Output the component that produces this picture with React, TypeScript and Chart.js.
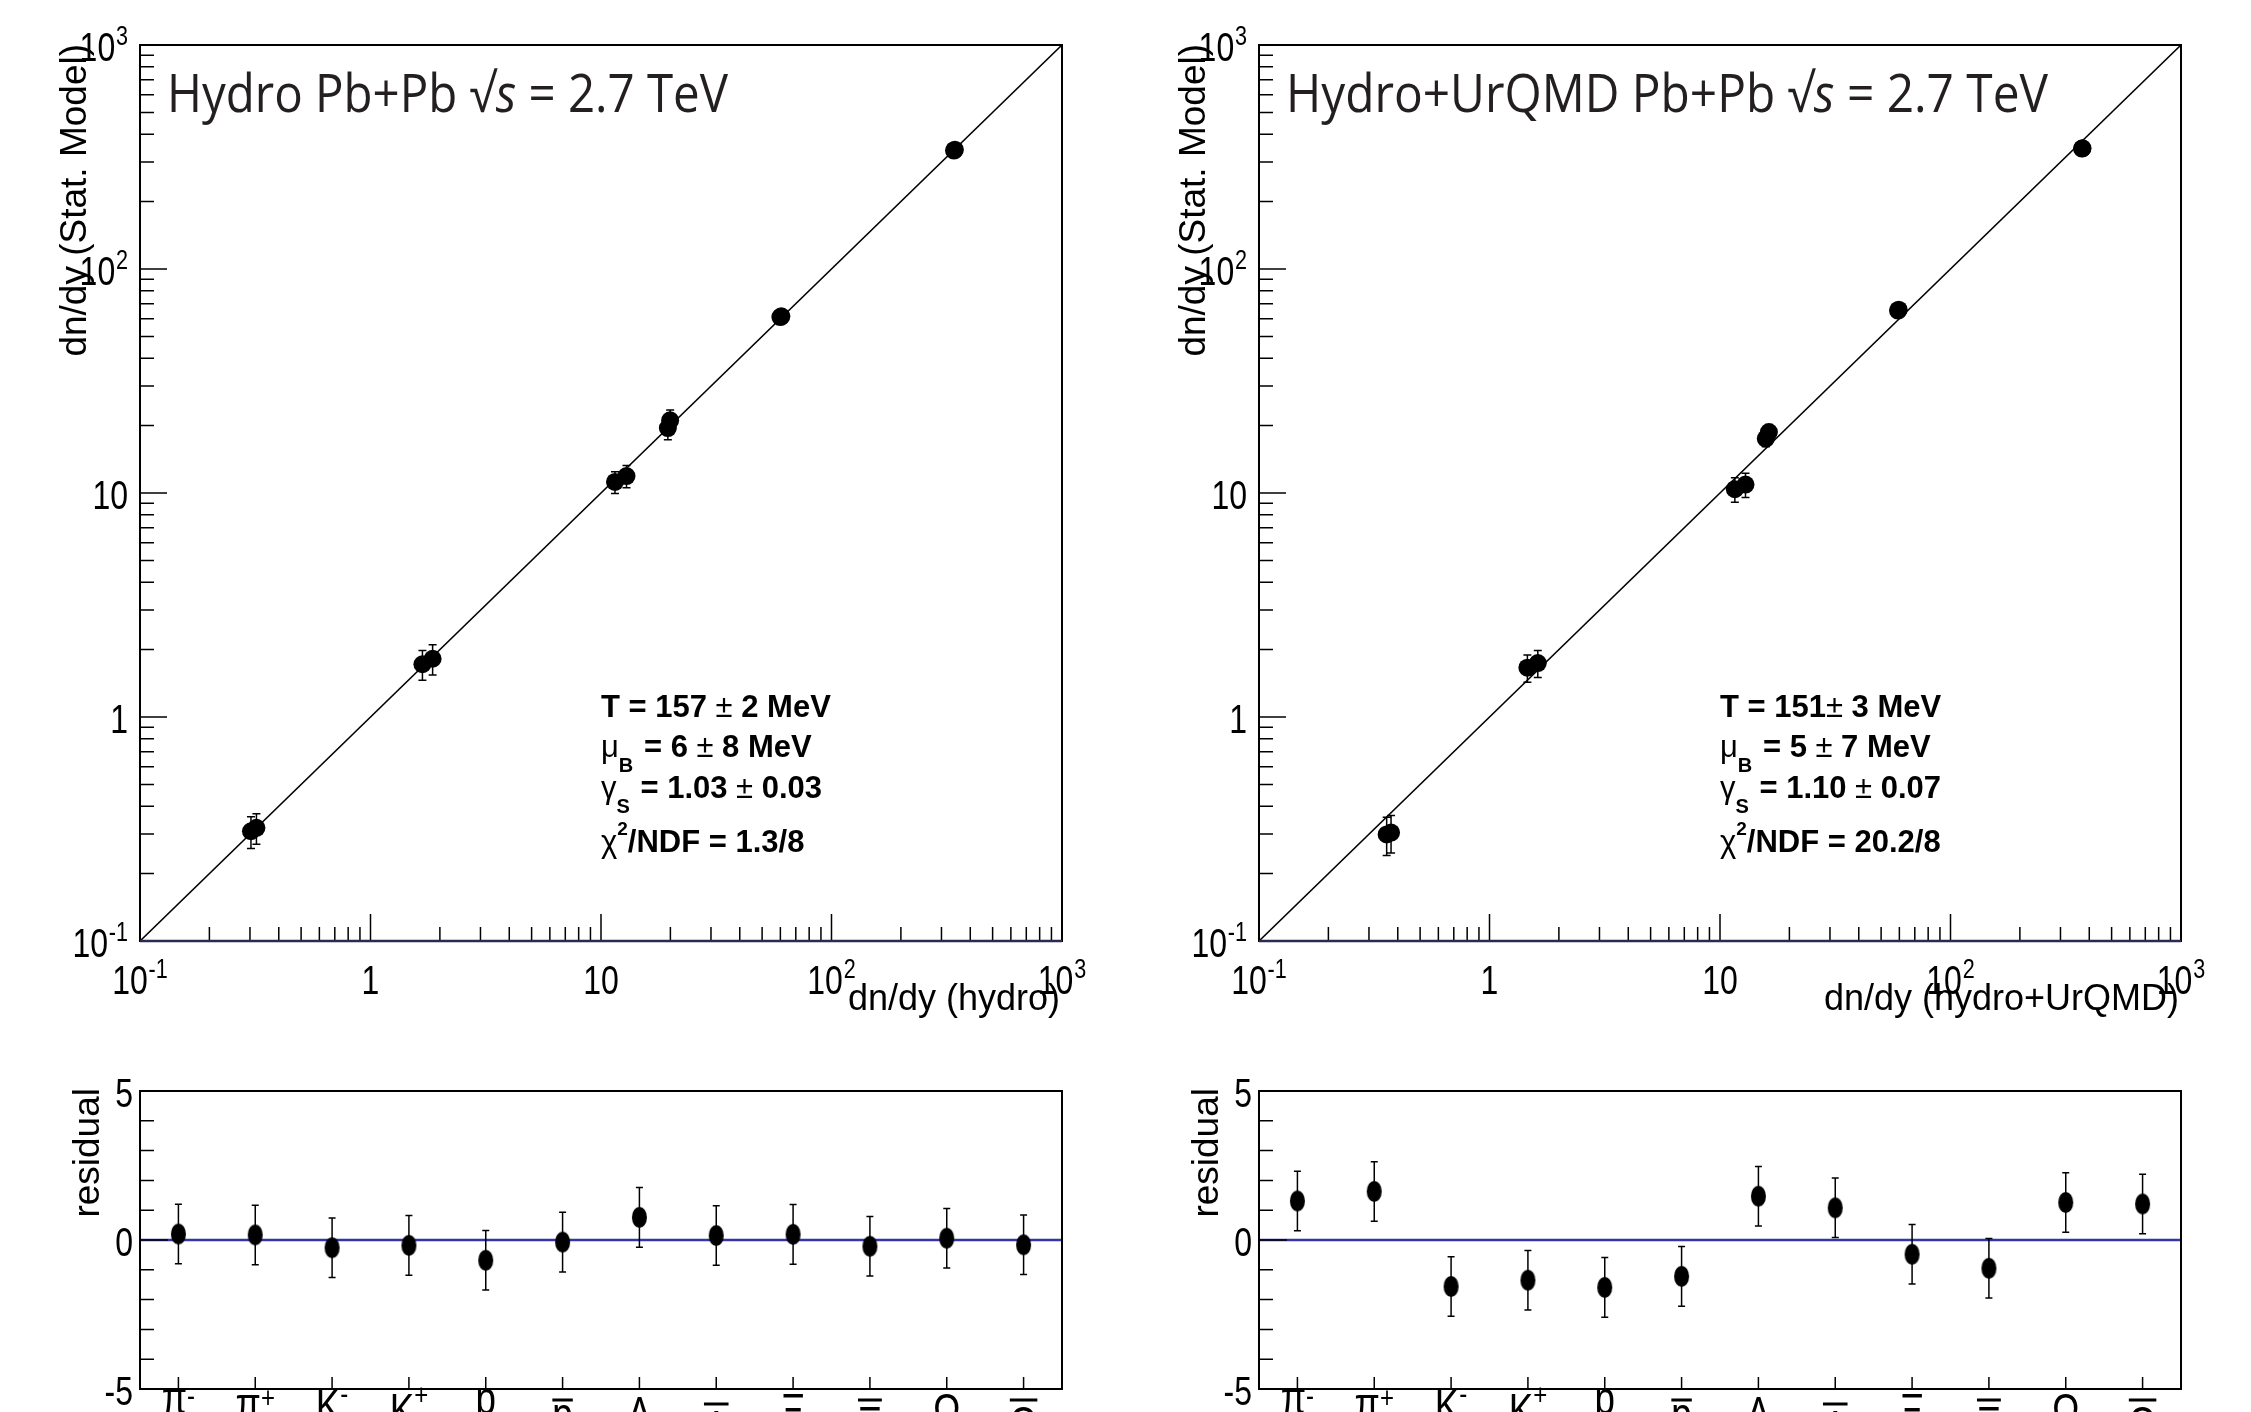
import React, { useEffect, useRef } from "react";
import { Chart, registerables } from "chart.js";

Chart.register(...registerables);

// ---------------- data ----------------
const particles = ["π⁻", "π⁺", "K⁻", "K⁺", "p", "p\u0304", "\u039B", "\u039B\u0304", "\u039E", "\u039E\u0304", "\u03A9", "\u03A9\u0304"];
const particleBase = ["π", "π", "K", "K", "p", "p", "\u039B", "\u039B", "\u039E", "\u039E", "\u03A9", "\u03A9"];
const particleSup = ["-", "+", "-", "+", "", "", "", "", "", "", "", ""];
const particleBar = [false, false, false, false, false, true, false, true, false, true, false, true];

const logTickValues = [0.1, 1, 10, 100, 1000];
const logTickBase = ["10", "1", "10", "10", "10"];
const logTickExp = ["-1", "", "", "2", "3"];
const residTickValues = [-5, 0, 5];
const residTickLabels = ["-5", "0", "5"];
const diagonal = [0.1, 1000];

// hydro panel: x = dn/dy (hydro), y = dn/dy (Stat. Model)
const hydroYield = [340, 343, 60.0, 60.6, 19.5, 19.95, 11.5, 12.9, 1.68, 1.86, 0.303, 0.32];
const hydroStat = [338, 341, 61.0, 61.5, 19.5, 21.1, 11.2, 11.9, 1.72, 1.82, 0.309, 0.32];
const hydroStatErr = [12, 12, 2.5, 2.5, 2.2, 2.4, 1.25, 1.35, 0.26, 0.28, 0.05, 0.05];
const hydroResidual = [0.2, 0.17, -0.26, -0.18, -0.68, -0.07, 0.76, 0.15, 0.19, -0.21, 0.06, -0.16];

// hydro+UrQMD panel
const urqmdYield = [372, 374, 59.2, 59.6, 15.8, 16.3, 11.6, 12.9, 1.46, 1.62, 0.358, 0.374];
const urqmdStat = [345, 346, 65.2, 65.8, 17.5, 18.7, 10.4, 10.9, 1.66, 1.74, 0.299, 0.305];
const urqmdStatErr = [12, 12, 2.8, 2.8, 1.4, 1.5, 1.3, 1.35, 0.23, 0.24, 0.058, 0.058];
const urqmdResidual = [1.31, 1.63, -1.56, -1.35, -1.59, -1.22, 1.47, 1.08, -0.48, -0.95, 1.26, 1.21];

const residualErr = [1, 1, 1, 1, 1, 1, 1, 1, 1, 1, 1, 1];

const hydroFit = [
  [["T = 157 ", "b"], ["±", "r"], [" 2 MeV", "b"]],
  [["μ", "r"], ["B", "sub"], [" = 6 ", "b"], ["±", "r"], [" 8 MeV", "b"]],
  [["γ", "r"], ["S", "sub"], [" = 1.03 ", "b"], ["±", "r"], [" 0.03", "b"]],
  [["χ", "r"], ["2", "sup"], ["/NDF = 1.3/8", "b"]],
];
const urqmdFit = [
  [["T = 151", "b"], ["±", "r"], [" 3 MeV", "b"]],
  [["μ", "r"], ["B", "sub"], [" = 5 ", "b"], ["±", "r"], [" 7 MeV", "b"]],
  [["γ", "r"], ["S", "sub"], [" = 1.10 ", "b"], ["±", "r"], [" 0.07", "b"]],
  [["χ", "r"], ["2", "sup"], ["/NDF = 20.2/8", "b"]],
];

// ---------------- styling ----------------
const SANS = '"Liberation Sans", Arial, Helvetica, sans-serif';
const TITLE_FAMILY = '"Open Sans", "Noto Sans", sans-serif';
const FIT_FONTS: Record<string, string> = {
  b: `bold 31px ${SANS}`,
  r: `31px ${SANS}`,
  sub: `bold 20px ${SANS}`,
  sup: `bold 19px ${SANS}`,
};
const FIT_DY: Record<string, number> = { sub: 15, sup: -17 };
const FIT_BASELINES = [717, 757, 798, 852];
const TICK_SX = 0.8;
const TICK_FONT = `40px ${SANS}`;
const EXP_FONT = `27px ${SANS}`;

function drawRuns(ctx: CanvasRenderingContext2D, x: number, y: number, runs: any[]) {
  let cx = x;
  for (const [t, k] of runs) {
    ctx.font = FIT_FONTS[k];
    ctx.fillText(t, cx, y + (FIT_DY[k] || 0));
    cx += ctx.measureText(t).width + (k === "sub" ? 2 : 0);
  }
}

function drawScaledSegments(ctx: CanvasRenderingContext2D, x: number, y: number, segs: [string, string][], width: number) {
  let total = 0;
  for (const [t, f] of segs) {
    ctx.font = f;
    total += ctx.measureText(t).width;
  }
  const sx = width / total;
  ctx.save();
  ctx.translate(x, y);
  ctx.scale(sx, 1);
  let cx = 0;
  for (const [t, f] of segs) {
    ctx.font = f;
    ctx.fillText(t, cx, 0);
    cx += ctx.measureText(t).width;
  }
  ctx.restore();
}

// draws "base^exp" compressed horizontally; align: 'right' | 'center'; yc: vertical center of digits
function drawPow(ctx: CanvasRenderingContext2D, base: string, exp: string, x: number, yc: number, align: string) {
  ctx.font = TICK_FONT;
  const wb = ctx.measureText(base).width;
  ctx.font = EXP_FONT;
  const we = exp ? ctx.measureText(exp).width + 1 : 0;
  const w = (wb + we) * TICK_SX;
  const x0 = align === "right" ? x - w : x - w / 2;
  const baseline = yc + 14.3;
  ctx.save();
  ctx.translate(x0, baseline);
  ctx.scale(TICK_SX, 1);
  ctx.font = TICK_FONT;
  ctx.fillText(base, 0, 0);
  if (exp) {
    ctx.font = EXP_FONT;
    ctx.fillText(exp, wb + 1, -16);
  }
  ctx.restore();
}

function drawVTitle(ctx: CanvasRenderingContext2D, text: string, x: number, yEnd: number) {
  ctx.save();
  ctx.translate(x, yEnd);
  ctx.rotate(-Math.PI / 2);
  ctx.font = `37px ${SANS}`;
  ctx.textAlign = "right";
  ctx.textBaseline = "alphabetic";
  ctx.fillStyle = "#000";
  ctx.fillText(text, 0, 0);
  ctx.restore();
}

function ellipseMarker(rx: number, ry: number) {
  const c = document.createElement("canvas");
  c.width = Math.ceil(rx * 2 + 2);
  c.height = Math.ceil(ry * 2 + 2);
  const g = c.getContext("2d")!;
  g.fillStyle = "#000";
  g.beginPath();
  g.ellipse(c.width / 2, c.height / 2, rx, ry, 0, 0, Math.PI * 2);
  g.fill();
  return c;
}

// top edge (page y) of a category label's base glyph, ROOT-like placement
function labelTop(b: string, sup: string, bar: boolean) {
  if (bar) return (b === "\u039B" ? 1404 : 1400) + 6;
  if (sup === "-") return b === "π" ? 1390 : 1388;
  if (sup === "+") return b === "π" ? 1396 : 1393;
  if (b === "p") return 1390;
  if (b === "\u039B") return 1396;
  return 1393;
}

type TopCfg = {
  xs: number[];
  ys: number[];
  errs: number[];
  title: [string, string][];
  titleWidth: number;
  xTitle: string;
  fit: any[];
  rightPad: number;
};

function buildTop(canvas: HTMLCanvasElement, cfg: TopCfg) {
  const decor = {
    id: "rootDecorTop",
    beforeDatasetsDraw(chart: any) {
      const { ctx, scales } = chart;
      const x = scales.x, y = scales.y;
      ctx.save();
      ctx.strokeStyle = "#000";
      ctx.lineWidth = 1.5;
      ctx.beginPath();
      cfg.xs.forEach((xv, i) => {
        const px = x.getPixelForValue(xv);
        const top = y.getPixelForValue(cfg.ys[i] + cfg.errs[i]);
        const bot = y.getPixelForValue(cfg.ys[i] - cfg.errs[i]);
        ctx.moveTo(px, top);
        ctx.lineTo(px, bot);
        ctx.moveTo(px - 4, top);
        ctx.lineTo(px + 4, top);
        ctx.moveTo(px - 4, bot);
        ctx.lineTo(px + 4, bot);
      });
      ctx.stroke();
      ctx.restore();
    },
    afterDatasetsDraw(chart: any) {
      const { ctx, chartArea: a, scales } = chart;
      const x = scales.x, y = scales.y;
      ctx.save();
      // inner ticks
      ctx.strokeStyle = "#000";
      ctx.lineWidth = 1.5;
      ctx.beginPath();
      for (let e = -1; e < 3; e++) {
        for (let m = 1; m <= 9; m++) {
          if (e === -1 && m === 1) continue;
          const v = m * Math.pow(10, e);
          const len = m === 1 ? 27 : 14;
          const px = x.getPixelForValue(v);
          ctx.moveTo(px, a.bottom);
          ctx.lineTo(px, a.bottom - len);
          const py = y.getPixelForValue(v);
          ctx.moveTo(a.left, py);
          ctx.lineTo(a.left + len, py);
        }
      }
      ctx.stroke();
      // frame
      ctx.lineWidth = 2;
      ctx.strokeRect(a.left, a.top, a.right - a.left, a.bottom - a.top);
      ctx.strokeStyle = "#2a2a55";
      ctx.lineWidth = 2.5;
      ctx.beginPath();
      ctx.moveTo(a.left, a.bottom);
      ctx.lineTo(a.right, a.bottom);
      ctx.stroke();
      // tick labels
      ctx.fillStyle = "#000";
      ctx.textAlign = "left";
      ctx.textBaseline = "alphabetic";
      logTickValues.forEach((v, i) => {
        drawPow(ctx, logTickBase[i], logTickExp[i], a.left - 12, y.getPixelForValue(v) + 2, "right");
        drawPow(ctx, logTickBase[i], logTickExp[i], x.getPixelForValue(v), a.bottom + 39, "center");
      });
      // title
      ctx.fillStyle = "#231f20";
      drawScaledSegments(ctx, 167, 112, cfg.title, cfg.titleWidth);
      // axis titles
      ctx.fillStyle = "#000";
      ctx.font = `36px ${SANS}`;
      ctx.textAlign = "right";
      ctx.fillText(cfg.xTitle, a.right - 2, 1010);
      ctx.textAlign = "left";
      drawVTitle(ctx, "dn/dy (Stat. Model)", 86, 44);
      // fit results
      ctx.fillStyle = "#000";
      cfg.fit.forEach((runs, i) => drawRuns(ctx, 601, FIT_BASELINES[i], runs));
      ctx.restore();
    },
  };

  const logAxis = (size: (s: any) => void) => ({
    type: "logarithmic",
    min: 0.1,
    max: 1000,
    grid: { display: false, drawTicks: false },
    border: { display: false },
    afterBuildTicks: (s: any) => {
      s.ticks = logTickValues.map((v) => ({ value: v }));
    },
    ticks: { display: false },
    afterFit: size,
  });

  return new Chart(canvas, {
    type: "scatter",
    data: {
      datasets: [
        {
          data: diagonal.map((v) => ({ x: v, y: v })),
          showLine: true,
          borderColor: "#000",
          borderWidth: 1.6,
          pointRadius: 0,
          order: 2,
        },
        {
          data: cfg.xs.map((xv, i) => ({ x: xv, y: cfg.ys[i] })),
          backgroundColor: "#000",
          borderColor: "#000",
          borderWidth: 0,
          pointRadius: 9,
          pointHoverRadius: 9,
          order: 1,
        },
      ],
    },
    options: {
      responsive: false,
      animation: false,
      events: [],
      layout: { padding: { left: 0, top: 45, right: cfg.rightPad, bottom: 0 } },
      plugins: { legend: { display: false }, tooltip: { enabled: false } },
      scales: {
        x: logAxis((s: any) => {
          s.height = 1050 - 941;
        }),
        y: logAxis((s: any) => {
          s.width = 140;
        }),
      },
    },
    plugins: [decor],
  } as any);
}

function buildBottom(canvas: HTMLCanvasElement, resid: number[], errs: number[], rightPad: number) {
  const OFF = 1050; // canvas top in page coordinates
  const decor = {
    id: "rootDecorBottom",
    beforeDatasetsDraw(chart: any) {
      const { ctx, chartArea: a, scales } = chart;
      const x = scales.x, y = scales.y;
      ctx.save();
      ctx.strokeStyle = "#3535a8";
      ctx.lineWidth = 2.6;
      ctx.beginPath();
      const y0 = y.getPixelForValue(0);
      ctx.moveTo(a.left, y0);
      ctx.lineTo(a.right, y0);
      ctx.stroke();
      ctx.strokeStyle = "#000";
      ctx.lineWidth = 1.5;
      ctx.beginPath();
      resid.forEach((r, i) => {
        const px = x.getPixelForValue(i);
        const top = y.getPixelForValue(r + errs[i]);
        const bot = y.getPixelForValue(r - errs[i]);
        ctx.moveTo(px, top);
        ctx.lineTo(px, bot);
        ctx.moveTo(px - 3.5, top);
        ctx.lineTo(px + 3.5, top);
        ctx.moveTo(px - 3.5, bot);
        ctx.lineTo(px + 3.5, bot);
      });
      ctx.stroke();
      ctx.restore();
    },
    afterDatasetsDraw(chart: any) {
      const { ctx, chartArea: a, scales } = chart;
      const x = scales.x, y = scales.y;
      ctx.save();
      ctx.strokeStyle = "#000";
      ctx.lineWidth = 1.5;
      ctx.beginPath();
      for (let v = -4; v <= 5; v++) {
        const len = v % 5 === 0 ? 28 : 14;
        const py = y.getPixelForValue(v);
        ctx.moveTo(a.left, py);
        ctx.lineTo(a.left + len, py);
      }
      particles.forEach((_, i) => {
        const px = x.getPixelForValue(i);
        ctx.moveTo(px, a.bottom);
        ctx.lineTo(px, a.bottom - 12);
      });
      ctx.stroke();
      ctx.lineWidth = 2;
      ctx.strokeRect(a.left, a.top, a.right - a.left, a.bottom - a.top);
      // y tick labels
      ctx.fillStyle = "#000";
      ctx.textAlign = "left";
      ctx.textBaseline = "alphabetic";
      residTickValues.forEach((v, i) => {
        drawPow(ctx, residTickLabels[i], "", a.left - 7, y.getPixelForValue(v) + 2, "right");
      });
      // category labels (ROOT-like, cut by the page edge)
      const F = `46px ${SANS}`;
      const FS = `30px ${SANS}`;
      particleBase.forEach((b, i) => {
        const cx = x.getPixelForValue(i);
        const sup = particleSup[i];
        const bar = particleBar[i];
        const lower = b === "π" || b === "p";
        const glyphH = lower ? 24 : 33;
        const top = labelTop(b, sup, bar) - OFF;
        ctx.font = F;
        const wb = ctx.measureText(b).width;
        ctx.font = FS;
        const ws = sup ? ctx.measureText(sup).width : 0;
        const w = (wb + ws) * TICK_SX;
        const x0 = cx - w / 2;
        const baseline = top + glyphH;
        ctx.save();
        ctx.translate(x0, baseline);
        ctx.scale(TICK_SX, 1);
        ctx.font = F;
        ctx.fillText(b, 0, 0);
        if (sup) {
          ctx.font = FS;
          ctx.fillText(sup, wb, -glyphH + (sup === "-" ? 16 : 12));
        }
        ctx.restore();
        if (bar) {
          ctx.lineWidth = 3;
          ctx.beginPath();
          ctx.moveTo(cx - w / 2, top - 6);
          ctx.lineTo(cx + w / 2, top - 6);
          ctx.stroke();
        }
      });
      drawVTitle(ctx, "residual", 99, 38);
      ctx.restore();
    },
  };

  return new Chart(canvas, {
    type: "line",
    data: {
      labels: particles,
      datasets: [
        {
          data: resid,
          showLine: false,
          pointStyle: ellipseMarker(7.5, 10.5),
          pointRadius: 10,
          pointHoverRadius: 10,
          backgroundColor: "#000",
          borderColor: "#000",
        },
      ],
    },
    options: {
      responsive: false,
      animation: false,
      events: [],
      layout: { padding: { left: 0, top: 41, right: rightPad, bottom: 0 } },
      plugins: { legend: { display: false }, tooltip: { enabled: false } },
      scales: {
        x: {
          type: "category",
          offset: true,
          grid: { display: false, drawTicks: false },
          border: { display: false },
          ticks: { display: false },
          afterFit: (s: any) => {
            s.height = 400 - 339;
          },
        },
        y: {
          type: "linear",
          min: -5,
          max: 5,
          grid: { display: false, drawTicks: false },
          border: { display: false },
          afterBuildTicks: (s: any) => {
            s.ticks = residTickValues.map((v) => ({ value: v }));
          },
          ticks: { display: false },
          afterFit: (s: any) => {
            s.width = 140;
          },
        },
      },
    },
    plugins: [decor],
  } as any);
}

const titleFontN = `53px ${TITLE_FAMILY}`;
const titleFontI = `italic 53px ${TITLE_FAMILY}`;

export default function App() {
  const tl = useRef<HTMLCanvasElement>(null);
  const tr = useRef<HTMLCanvasElement>(null);
  const bl = useRef<HTMLCanvasElement>(null);
  const br = useRef<HTMLCanvasElement>(null);

  useEffect(() => {
    const charts = [
      buildTop(tl.current!, {
        xs: hydroYield,
        ys: hydroStat,
        errs: hydroStatErr,
        title: [["Hydro Pb+Pb √", titleFontN], ["s", titleFontI], [" = 2.7 TeV", titleFontN]],
        titleWidth: 561,
        xTitle: "dn/dy (hydro)",
        fit: hydroFit,
        rightPad: 57,
      }),
      buildTop(tr.current!, {
        xs: urqmdYield,
        ys: urqmdStat,
        errs: urqmdStatErr,
        title: [["Hydro+UrQMD Pb+Pb √", titleFontN], ["s", titleFontI], [" = 2.7 TeV", titleFontN]],
        titleWidth: 762,
        xTitle: "dn/dy (hydro+UrQMD)",
        fit: urqmdFit,
        rightPad: 70,
      }),
      buildBottom(bl.current!, hydroResidual, residualErr, 57),
      buildBottom(br.current!, urqmdResidual, residualErr, 70),
    ];
    return () => charts.forEach((c) => c.destroy());
  }, []);

  const cs = (left: number, top: number, w: number, h: number): React.CSSProperties => ({
    position: "absolute",
    left,
    top,
    width: w,
    height: h,
    display: "block",
  });

  return (
    <div
      style={{
        position: "absolute",
        left: 0,
        top: 0,
        width: 2251,
        height: 1412,
        overflow: "hidden",
        background: "#fff",
      }}
    >
      <canvas ref={tl} width={1119} height={1050} style={cs(0, 0, 1119, 1050)} />
      <canvas ref={tr} width={1132} height={1050} style={cs(1119, 0, 1132, 1050)} />
      <canvas ref={bl} width={1119} height={400} style={cs(0, 1050, 1119, 400)} />
      <canvas ref={br} width={1132} height={400} style={cs(1119, 1050, 1132, 400)} />
    </div>
  );
}
